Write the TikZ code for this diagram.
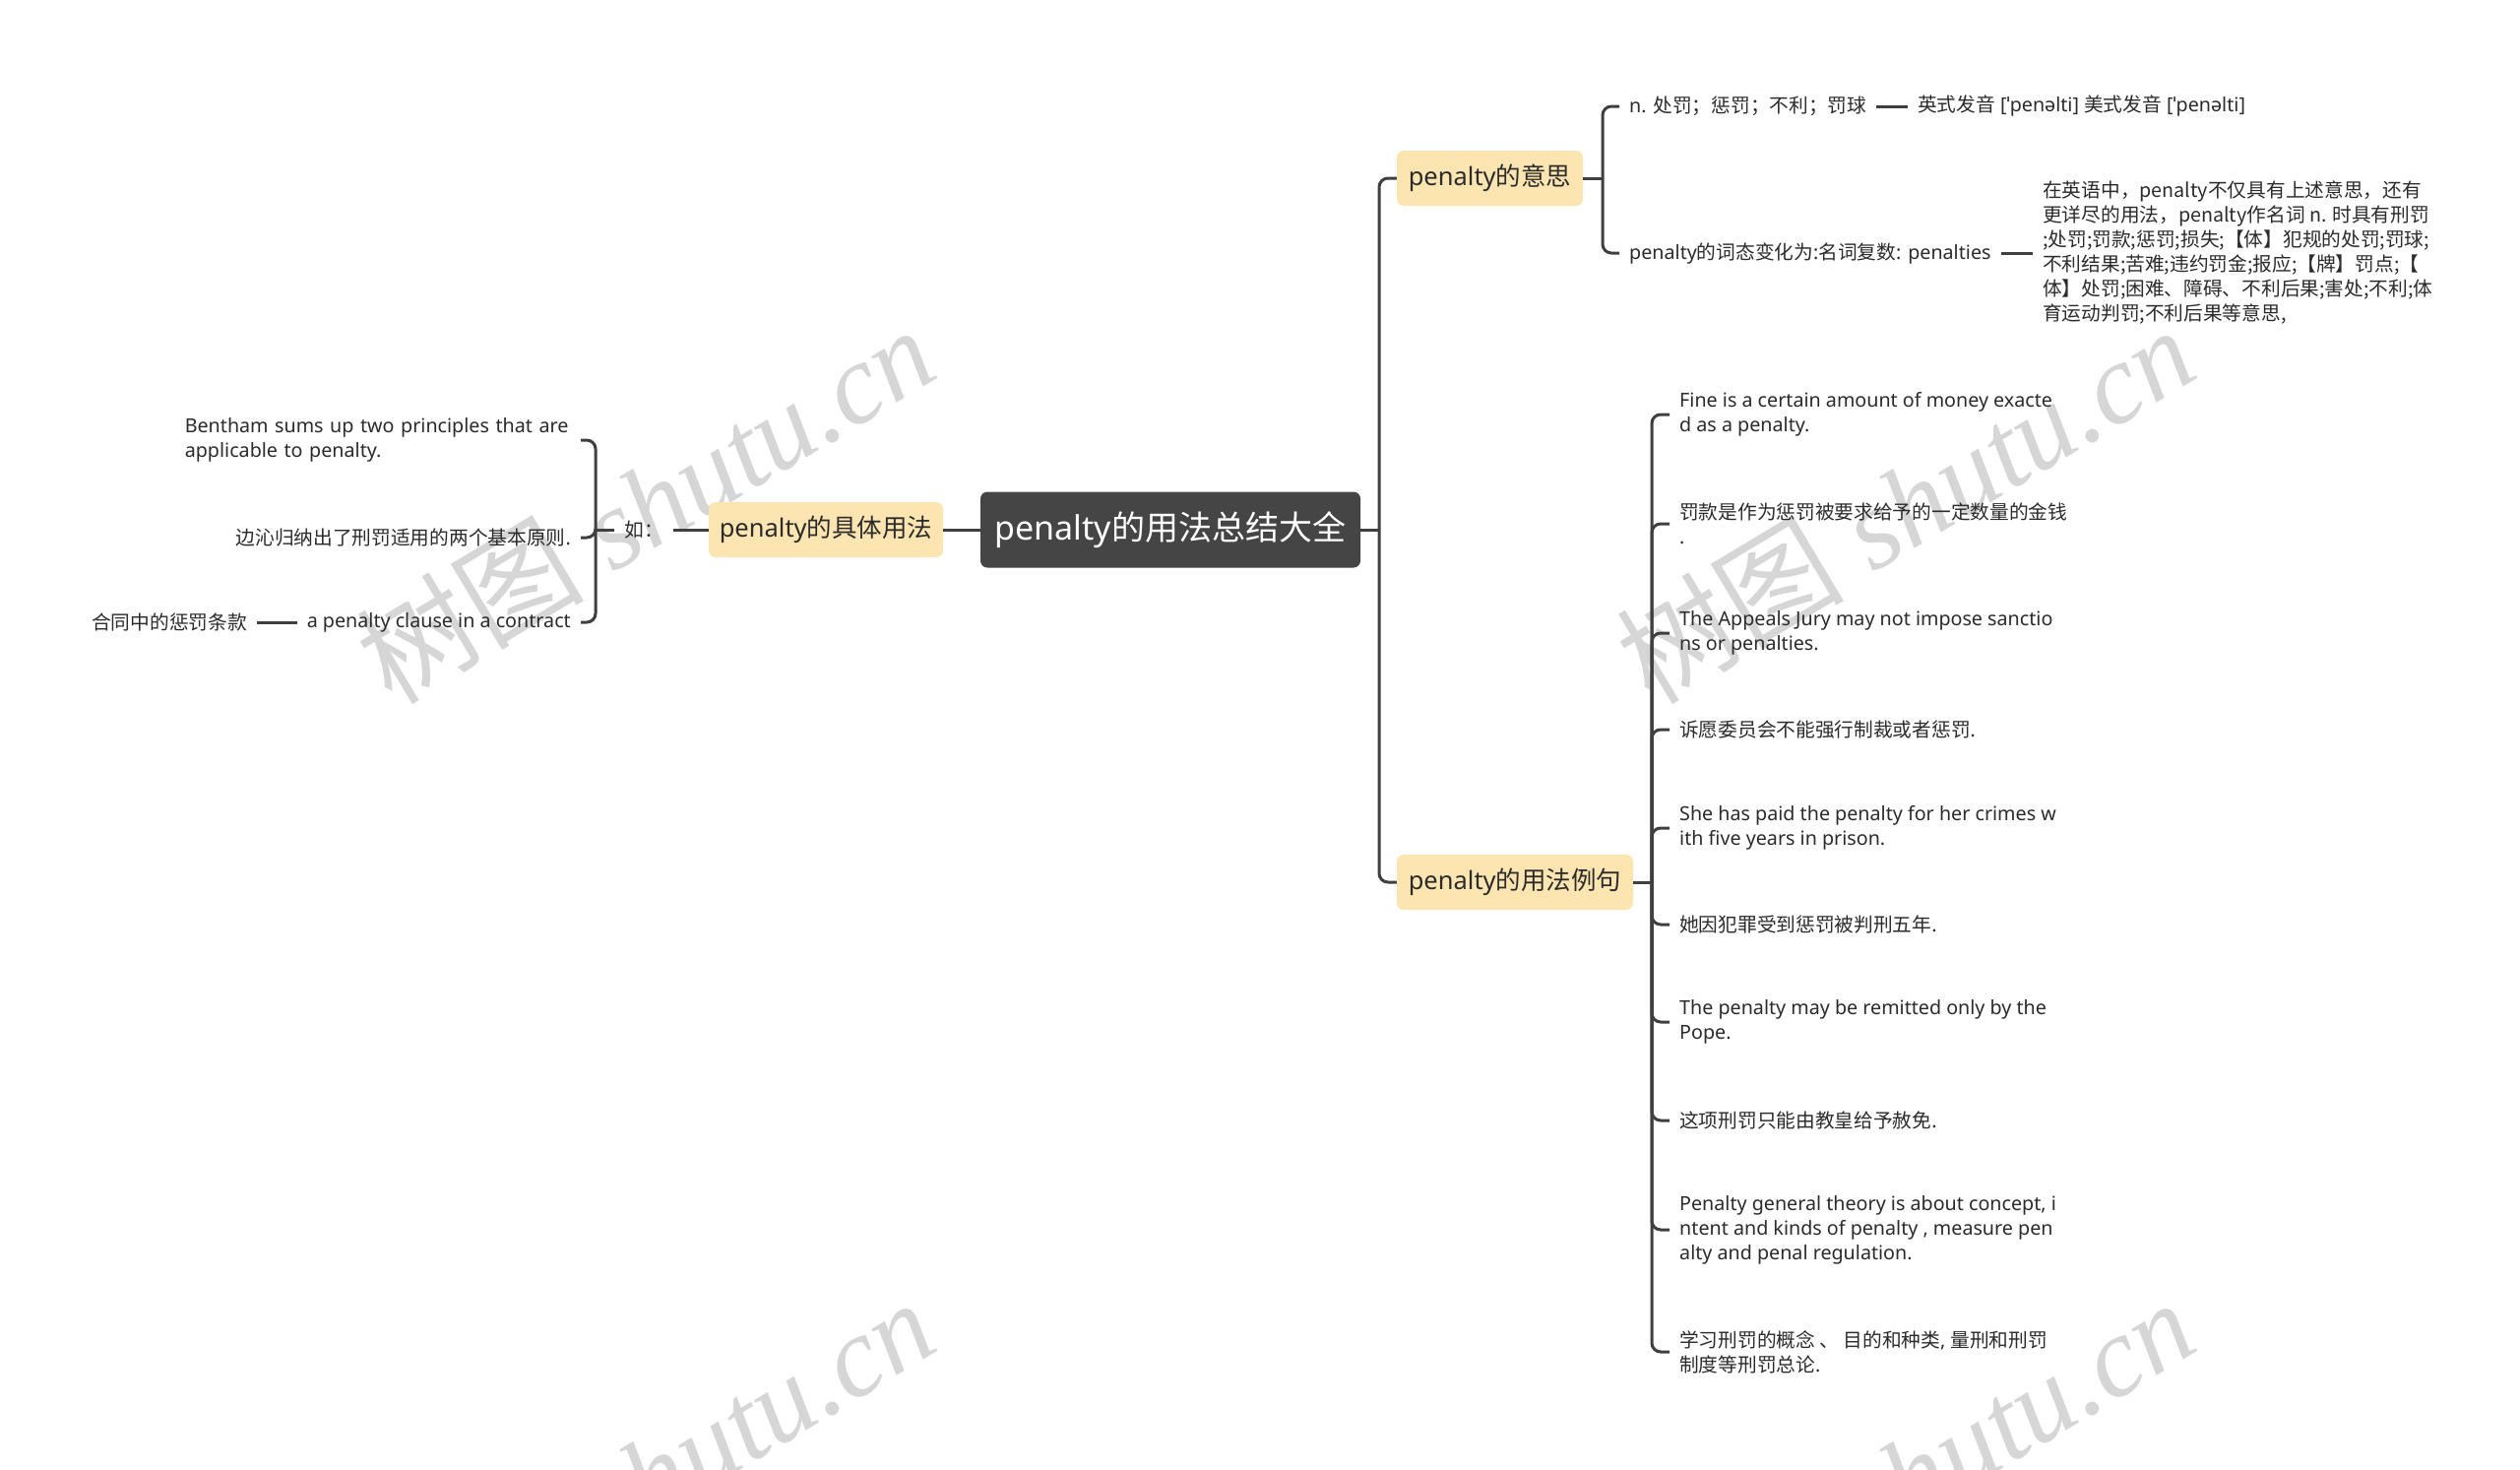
\documentclass[tikz,border=0pt]{standalone}
\usepackage{fontspec}
\setmainfont{Noto Sans}
\newfontfamily\zhfont{Noto Sans CJK SC}
\newfontfamily\wmserif{Liberation Serif}
\newcommand\zh[1]{{\zhfont #1}}
\definecolor{linec}{HTML}{3F3F3F}
\definecolor{txt}{HTML}{2B2B2B}
\definecolor{boxc}{HTML}{FCE5B1}
\definecolor{rootc}{HTML}{454545}
\definecolor{wmc}{HTML}{D6D6D6}
\begin{document}
\begin{tikzpicture}[x=1pt,y=-1pt,
 conn/.style={draw=linec, line width=3, rounded corners=9},
 leaf/.style={font=\fontsize{19.7}{25}\selectfont, text=txt, inner xsep=10, inner ysep=3, align=left},
 leafzh/.style={leaf, font=\fontsize{19.7}{25}\selectfont\zhfont},
 branch/.style={fill=boxc, rounded corners=7, font=\fontsize{25.5}{30}\selectfont, text=txt, minimum height=56, inner xsep=0},
 rootbox/.style={fill=rootc, rounded corners=7, font=\fontsize{34}{40}\selectfont, text=white, minimum height=77, minimum width=386, inner xsep=0},
 wm/.style={text=wmc, rotate=31, font=\fontsize{116}{120}\selectfont}]
\useasboundingbox (0,0) rectangle (2560,1492);
\clip (0,0) rectangle (2560,1492);
\fill[white] (0,0) rectangle (2560,1492);

% watermarks
\node[wm] (wm1) at (655,512) {\zh{树图} {\wmserif\itshape shutu.cn}};
\node[wm] (wm2) at (1935,512) {\zh{树图} {\wmserif\itshape shutu.cn}};
\node[wm] (wm3) at (655,1500) {\zh{树图} {\wmserif\itshape shutu.cn}};
\node[wm] (wm4) at (1935,1500) {\zh{树图} {\wmserif\itshape shutu.cn}};

% central and main branches
\node[rootbox] (root) at (1189,538) {penalty\zh{的用法总结大全}};
\node[branch, minimum width=189] (b1) at (1513.5,181) {penalty\zh{的意思}};
\node[branch, minimum width=240] (b2) at (1539,896) {penalty\zh{的用法例句}};
\node[branch, minimum width=238] (bl) at (839,538) {penalty\zh{的具体用法}};

% left side
\node[leafzh, anchor=east] (ru) at (684,538) {如：};
\node[leaf, anchor=east, text width=392] (l1) at (590,447) {Bentham sums up two principles that are\\applicable to penalty.};
\node[leaf, anchor=east] (l2) at (590,546) {\zh{边沁归纳出了刑罚适用的两个基本原则}.};
\node[leaf, anchor=east] (l3) at (590,632) {a penalty clause in a contract};
\node[leafzh, anchor=east] (l3a) at (261,632) {合同中的惩罚条款};

% right branch 1
\node[leaf, anchor=west] (r1a) at (1645,108) {n. \zh{处罚；惩罚；不利；罚球}};
\node[leaf, anchor=west] (r1a2) at (1938,108) {\zh{英式发音} [ˈpenəlti] \zh{美式发音} [ˈpenəlti]};
\node[leaf, anchor=west] (r1b) at (1645,257) {penalty\zh{的词态变化为}:\zh{名词复数}: penalties};
\node[leafzh, anchor=west] (r1b2) at (2065,257) {在英语中，penalty不仅具有上述意思，还有\\更详尽的用法，penalty作名词 n. 时具有刑罚\\;处罚;罚款;惩罚;损失;【体】犯规的处罚;罚球;\\不利结果;苦难;违约罚金;报应;【牌】罚点;【\\体】处罚;困难、障碍、不利后果;害处;不利;体\\育运动判罚;不利后果等意思,};

% right branch 2
\node[leaf, anchor=west] (c1) at (1696,421) {Fine is a certain amount of money exacte\\d as a penalty.};
\node[leaf, anchor=west] (c2) at (1696,532) {\zh{罚款是作为惩罚被要求给予的一定数量的金钱}\\.};
\node[leaf, anchor=west] (c3) at (1696,643) {The Appeals Jury may not impose sanctio\\ns or penalties.};
\node[leaf, anchor=west] (c4) at (1696,741) {\zh{诉愿委员会不能强行制裁或者惩罚}.};
\node[leaf, anchor=west] (c5) at (1696,841) {She has paid the penalty for her crimes w\\ith five years in prison.};
\node[leaf, anchor=west] (c6) at (1696,939) {\zh{她因犯罪受到惩罚被判刑五年}.};
\node[leaf, anchor=west] (c7) at (1696,1038) {The penalty may be remitted only by the\\Pope.};
\node[leaf, anchor=west] (c8) at (1696,1138) {\zh{这项刑罚只能由教皇给予赦免}.};
\node[leaf, anchor=west] (c9) at (1696,1249) {Penalty general theory is about concept, i\\ntent and kinds of penalty , measure pen\\alty and penal regulation.};
\node[leaf, anchor=west] (c10) at (1696,1373) {\zh{学习刑罚的概念 、 目的和种类}, \zh{量刑和刑罚}\\\zh{制度等刑罚总论}.};

% connectors: trunk
\coordinate (tr) at (1401,538);
\draw[conn] (root.east) -- (tr);
\draw[conn] (tr) |- (b1.west);
\draw[conn] (tr) |- (b2.west);
\draw[conn] (bl.east) -- (root.west);

% left connectors
\draw[conn] (ru.east) -- (bl.west);
\coordinate (lb) at (605,538);
\draw[conn] (ru.west) -- (lb);
\draw[conn] (lb) |- (l1.east);
\draw[conn] (lb) |- (l2.east);
\draw[conn] (lb) |- (l3.east);
\draw[conn] (l3.west) -- (l3a.east);

% branch 1 connectors
\coordinate (k1) at (1628,181);
\draw[conn] (b1.east) -- (k1);
\draw[conn] (k1) |- (r1a.west);
\draw[conn] (k1) |- (r1b.west);
\draw[conn] (r1a.east) -- (r1a2.west);
\draw[conn] (r1b.east) -- (r1b2.west);

% branch 2 connectors
\coordinate (k2) at (1678,896);
\draw[conn] (b2.east) -- (k2);
\foreach \c in {c1,c2,c3,c4,c5,c6,c7,c8,c9,c10}{
  \draw[conn] (k2) |- (\c.west);
}
\end{tikzpicture}
\end{document}
